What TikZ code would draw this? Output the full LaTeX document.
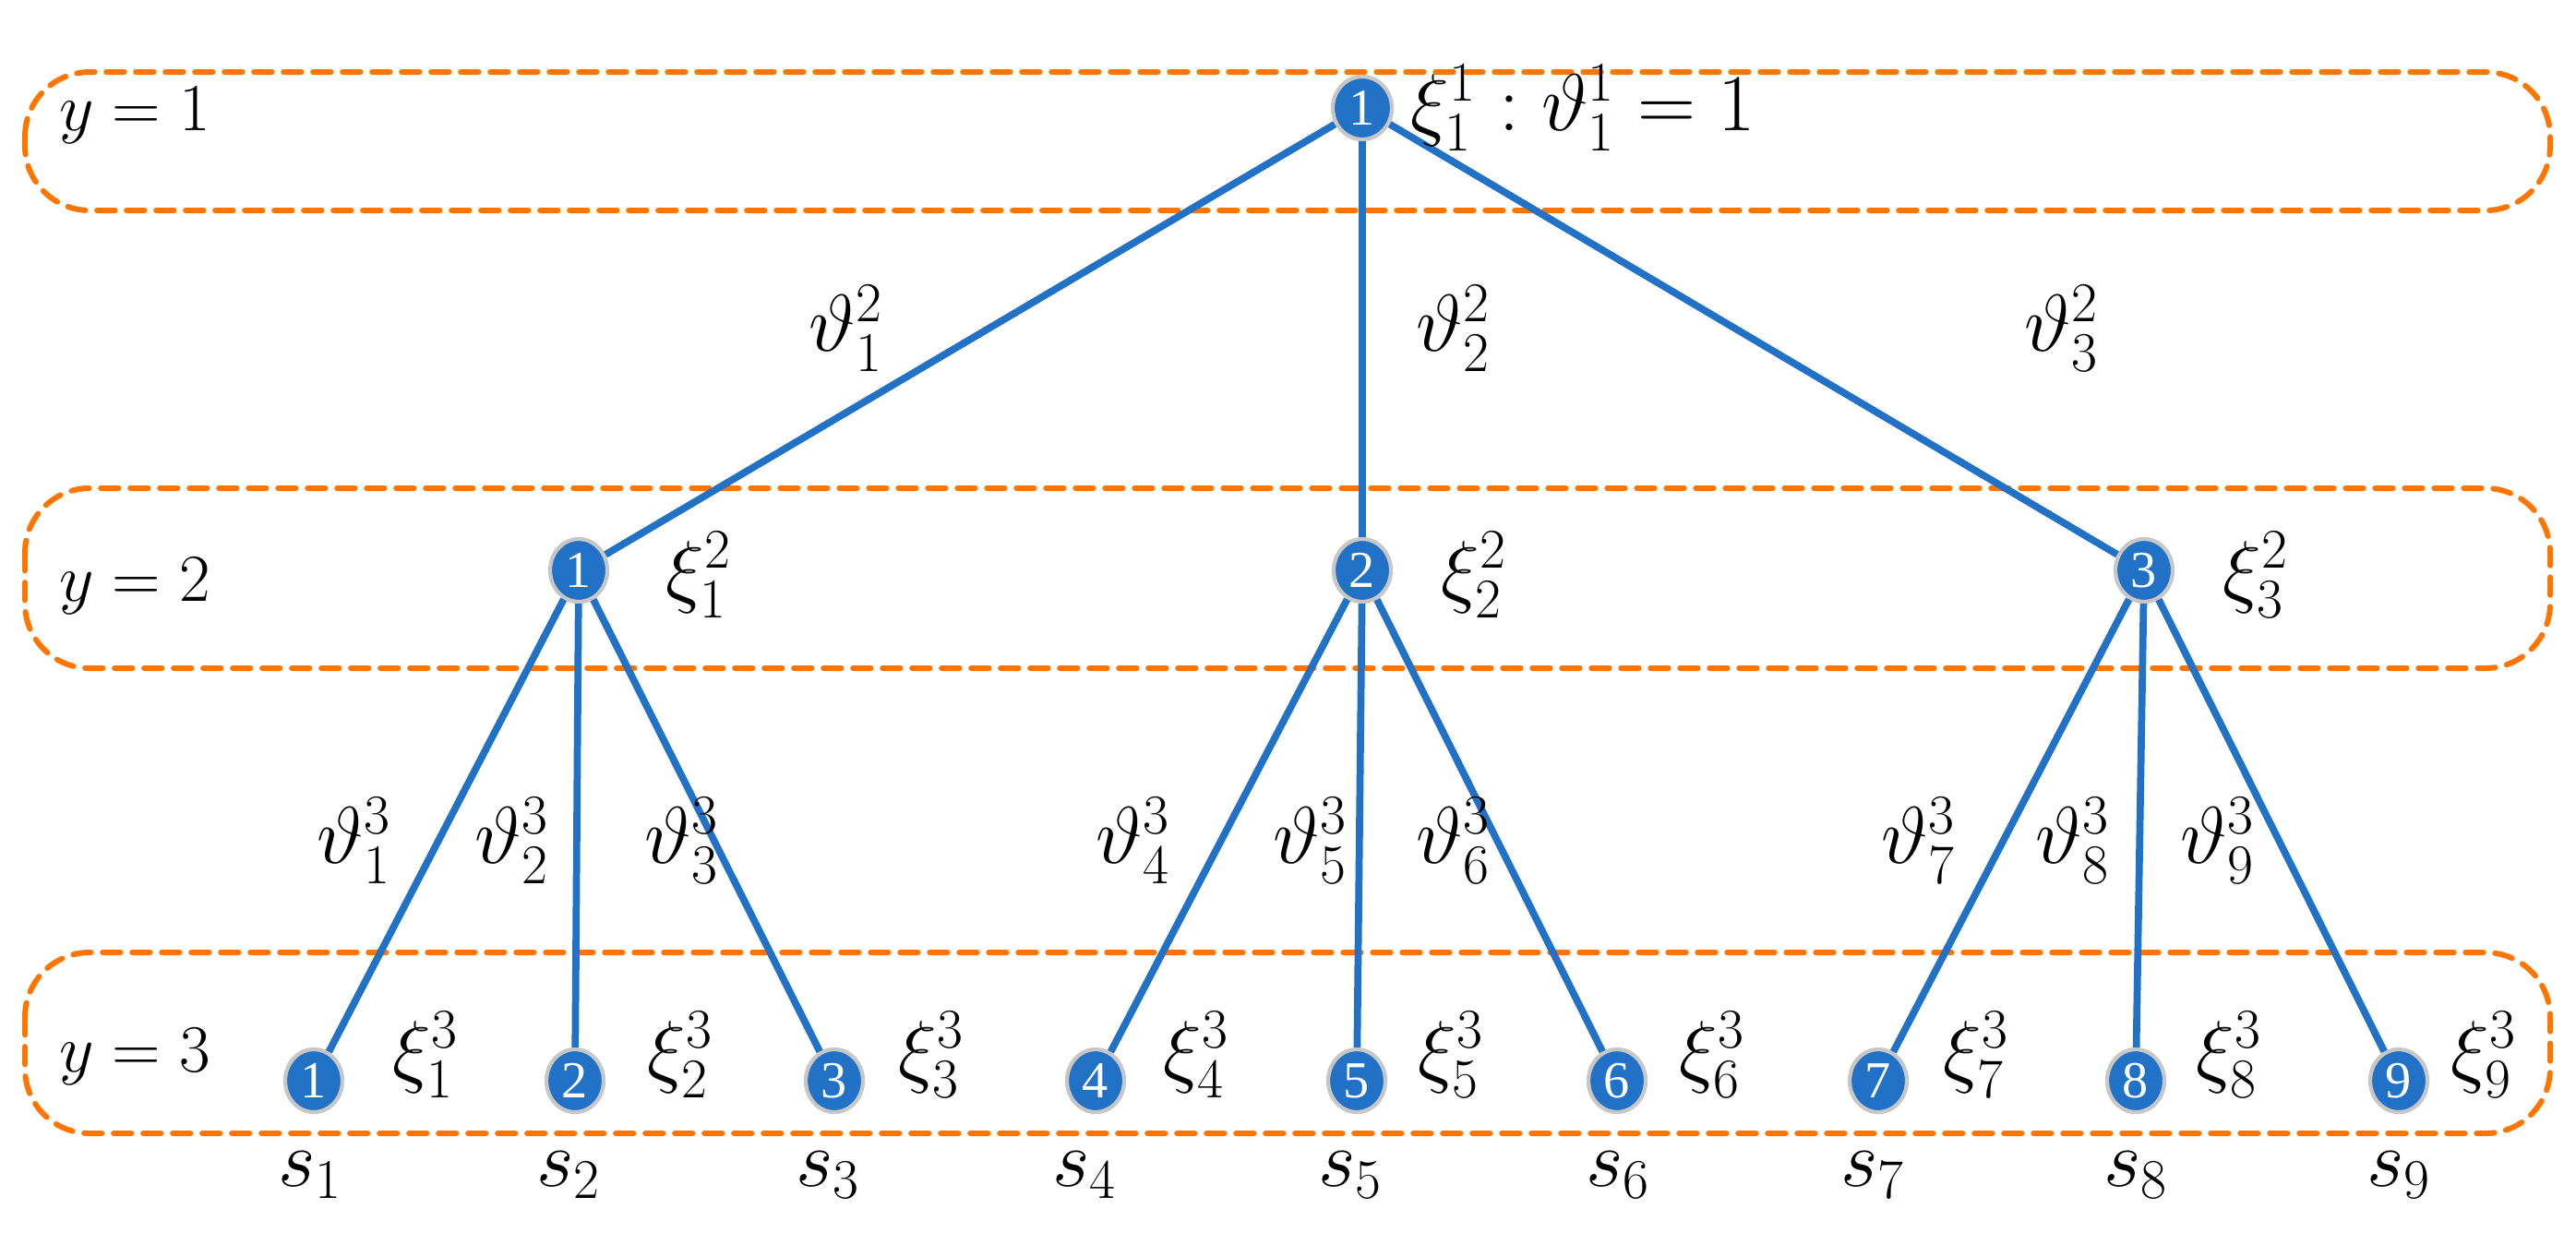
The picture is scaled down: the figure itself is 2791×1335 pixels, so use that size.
\documentclass[tikz,border=0pt]{standalone}
\usepackage[no-math]{fontspec}
\setmainfont{Liberation Serif}
\usetikzlibrary{positioning,shapes.geometric}
\definecolor{treeblue}{RGB}{33,114,198}
\definecolor{bandorange}{RGB}{255,117,0}
\tikzset{
    %Define style for tree nodes
    snode/.style={
           ellipse,
           fill=treeblue,
           draw=black!22, line width=1.2pt,
           minimum width=0.62cm,
           minimum height=0.68cm,
           inner sep=0pt,
           text=white,
           font=\fontsize{16}{16}\selectfont},
    % Define style for branches
    branch/.style={
           draw=treeblue,
           line width=2.2pt},
    % Define style for stage bands
    band/.style={
           draw=bandorange,
           line width=1.7pt,
           dash pattern=on 5.5pt off 3.6pt,
           line cap=round,
           rounded corners=0.7cm},
    lbl/.style={font=\fontsize{25}{25}\selectfont, inner sep=0pt},
    stage/.style={font=\fontsize{20}{20}\selectfont, inner sep=0pt}
}
\begin{document}
\begin{tikzpicture}[x=0.01cm,y=-0.01cm]
\useasboundingbox (0,0) rectangle (2791,1335);
 %bands
\draw[band] (27,78) rectangle (2763,228);
\draw[band] (27,529) rectangle (2763,724);
\draw[band] (27,1032) rectangle (2763,1228);
\node[stage] (y1) at (146,125) {$y=1$};
\node[stage] (y2) at (146,635) {$y=2$};
\node[stage] (y3) at (146,1145) {$y=3$};

 %nodes
\node[snode, minimum width=0.64cm](r) at (1476,117) {1};
\node[snode](a1) at (627,618) {1};
\node[snode](a2) at (1476,618) {2};
\node[snode](a3) at (2323,618) {3};
\foreach \i/\x in {1/340,2/623,3/904,4/1187,5/1470,6/1752,7/2035,8/2314,9/2599}
  \node[snode](b\i) at (\x,1171) {\i};

 %branches
\draw[branch] (r) -- (a1) (r) -- (a2) (r) -- (a3);
\foreach \p/\c in {1/1,1/2,1/3,2/4,2/5,2/6,3/7,3/8,3/9}
  \draw[branch] (a\p) -- (b\c);

 %labels
\node[lbl, right=5pt of r](rl) {$\xi_1^1:\vartheta_1^1=1$};
\node[lbl](t1) at (917,356) {$\vartheta_1^2$};
\node[lbl](t2) at (1575,356) {$\vartheta_2^2$};
\node[lbl](t3) at (2234,356) {$\vartheta_3^2$};
\node[lbl](x1) at (757,623) {$\xi_1^2$};
\node[lbl](x2) at (1597,623) {$\xi_2^2$};
\node[lbl](x3) at (2444,623) {$\xi_3^2$};
\foreach \i/\x in {1/384,2/555,3/739,4/1228,5/1420,6/1575,7/2079,8/2246,9/2403}
  \node[lbl](v\i) at (\x,911) {$\vartheta_{\i}^3$};
\foreach \i/\x in {1/461,2/737,3/1009,4/1296,5/1572,6/1855,7/2141,8/2415,9/2691}
  \node[lbl](z\i) at (\x,1143) {$\xi_{\i}^3$};
\foreach \i/\x in {1/336,2/616,3/897,4/1175,5/1463,6/1753,7/2029,8/2314,9/2599}
  \node[lbl](s\i) at (\x,1273) {$s_{\i}$};

\end{tikzpicture}
\end{document}
